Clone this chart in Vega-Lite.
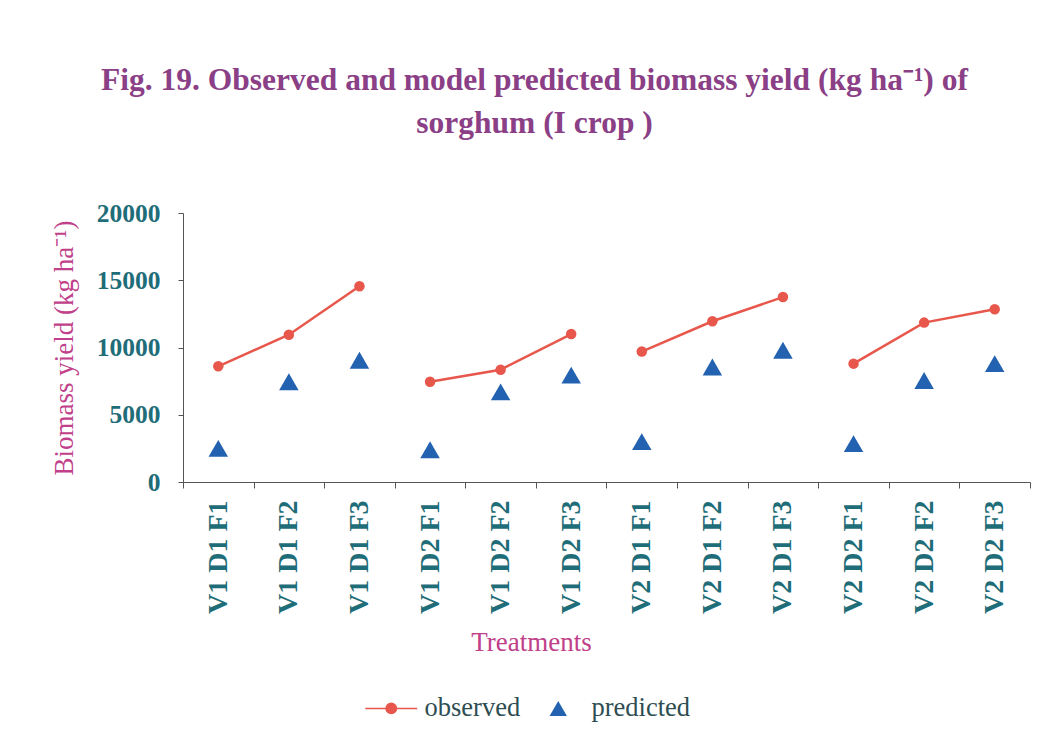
{
  "$schema": "https://vega.github.io/schema/vega-lite/v6.json",
  "width": 847,
  "height": 269,
  "autosize": "none",
  "padding": {"left": 183, "top": 213, "right": 25, "bottom": 267},
  "background": "white",
  "config": {
    "view": {"stroke": null},
    "font": "Liberation Serif"
  },
  "title": {
    "text": ["Fig. 19. Observed and model predicted biomass yield (kg ha⁻¹) of", "sorghum (I crop )"],
    "font": "Liberation Serif",
    "fontSize": 31.5,
    "fontWeight": "bold",
    "color": "#8a3f86",
    "anchor": "middle",
    "dx": -72,
    "offset": 62,
    "lineHeight": 43
  },
  "data": {
    "values": [
      {"treatment": "V1 D1 F1", "group": "V1 D1", "type": "observed", "value": 8600},
      {"treatment": "V1 D1 F2", "group": "V1 D1", "type": "observed", "value": 10950},
      {"treatment": "V1 D1 F3", "group": "V1 D1", "type": "observed", "value": 14550},
      {"treatment": "V1 D2 F1", "group": "V1 D2", "type": "observed", "value": 7450},
      {"treatment": "V1 D2 F2", "group": "V1 D2", "type": "observed", "value": 8350},
      {"treatment": "V1 D2 F3", "group": "V1 D2", "type": "observed", "value": 11000},
      {"treatment": "V2 D1 F1", "group": "V2 D1", "type": "observed", "value": 9700},
      {"treatment": "V2 D1 F2", "group": "V2 D1", "type": "observed", "value": 11950},
      {"treatment": "V2 D1 F3", "group": "V2 D1", "type": "observed", "value": 13750},
      {"treatment": "V2 D2 F1", "group": "V2 D2", "type": "observed", "value": 8800},
      {"treatment": "V2 D2 F2", "group": "V2 D2", "type": "observed", "value": 11850},
      {"treatment": "V2 D2 F3", "group": "V2 D2", "type": "observed", "value": 12850},
      {"treatment": "V1 D1 F1", "group": "V1 D1", "type": "predicted", "value": 2500},
      {"treatment": "V1 D1 F2", "group": "V1 D1", "type": "predicted", "value": 7450},
      {"treatment": "V1 D1 F3", "group": "V1 D1", "type": "predicted", "value": 9050},
      {"treatment": "V1 D2 F1", "group": "V1 D2", "type": "predicted", "value": 2400},
      {"treatment": "V1 D2 F2", "group": "V1 D2", "type": "predicted", "value": 6700},
      {"treatment": "V1 D2 F3", "group": "V1 D2", "type": "predicted", "value": 7950},
      {"treatment": "V2 D1 F1", "group": "V2 D1", "type": "predicted", "value": 3000},
      {"treatment": "V2 D1 F2", "group": "V2 D1", "type": "predicted", "value": 8550},
      {"treatment": "V2 D1 F3", "group": "V2 D1", "type": "predicted", "value": 9800},
      {"treatment": "V2 D2 F1", "group": "V2 D2", "type": "predicted", "value": 2850},
      {"treatment": "V2 D2 F2", "group": "V2 D2", "type": "predicted", "value": 7550},
      {"treatment": "V2 D2 F3", "group": "V2 D2", "type": "predicted", "value": 8800}
    ]
  },
  "encoding": {
    "x": {
      "field": "treatment",
      "type": "nominal",
      "sort": null,
      "scale": {"paddingInner": 0, "paddingOuter": 0},
      "axis": {
        "title": "Treatments",
        "titleFont": "Liberation Serif",
        "titleFontSize": 27,
        "titleFontWeight": "normal",
        "titleColor": "#c0408a",
        "titleX": 348,
        "titleY": 160,
        "titleAlign": "center",
        "titleBaseline": "middle",
        "labelAngle": -90,
        "labelAlign": "right",
        "labelBaseline": "middle",
        "labelFont": "Liberation Serif",
        "labelFontSize": 28,
        "labelFontWeight": "bold",
        "labelColor": "#1f6d78",
        "labelPadding": 12,
        "tickBand": "extent",
        "tickSize": 6,
        "tickColor": "#555",
        "domainColor": "#555",
        "grid": false
      }
    },
    "y": {
      "field": "value",
      "type": "quantitative",
      "scale": {"domain": [0, 20000], "nice": false},
      "axis": {
        "title": "Biomass yield (kg ha⁻¹)",
        "titleFont": "Liberation Serif",
        "titleFontSize": 27,
        "titleFontWeight": "normal",
        "titleColor": "#c0408a",
        "titlePadding": 18,
        "values": [0, 5000, 10000, 15000, 20000],
        "format": "d",
        "labelFont": "Liberation Serif",
        "labelFontSize": 25.5,
        "labelFontWeight": "bold",
        "labelColor": "#1f6d78",
        "labelPadding": 18,
        "tickSize": 5,
        "tickColor": "#555",
        "domainColor": "#555",
        "grid": false
      }
    },
    "color": {
      "field": "type",
      "type": "nominal",
      "scale": {"domain": ["observed", "predicted"], "range": ["#e8574c", "#2262b0"]},
      "legend": {
        "title": null,
        "orient": "none",
        "direction": "horizontal",
        "legendX": 195,
        "legendY": 482,
        "labelFont": "Liberation Serif",
        "labelFontSize": 26.5,
        "labelColor": "#2e4d52",
        "symbolSize": 300,
        "columnPadding": 24,
        "labelOffset": 20,
        "encode": {
          "symbols": {
            "update": {
              "shape": {"signal": "datum.value === 'observed' ? 'M-3,0L3,0M0.6,0A0.6,0.6,0,1,1,-0.6,0A0.6,0.6,0,1,1,0.6,0' : 'triangle-up'"},
              "strokeWidth": {"signal": "datum.value === 'observed' ? 1.5 : 0"},
              "stroke": {"signal": "datum.value === 'observed' ? '#e8574c' : '#2262b0'"},
              "fill": {"signal": "datum.value === 'observed' ? '#e8574c' : '#2262b0'"},
              "opacity": {"value": 1}
            }
          }
        }
      }
    }
  },
  "layer": [
    {
      "transform": [{"filter": "datum.type === 'observed'"}],
      "mark": {"type": "line", "strokeWidth": 2.5, "point": {"filled": true, "size": 110}},
      "encoding": {"detail": {"field": "group"}}
    },
    {
      "transform": [{"filter": "datum.type === 'predicted'"}],
      "mark": {"type": "point", "shape": "triangle-up", "filled": true, "size": 380, "opacity": 1}
    }
  ]
}
